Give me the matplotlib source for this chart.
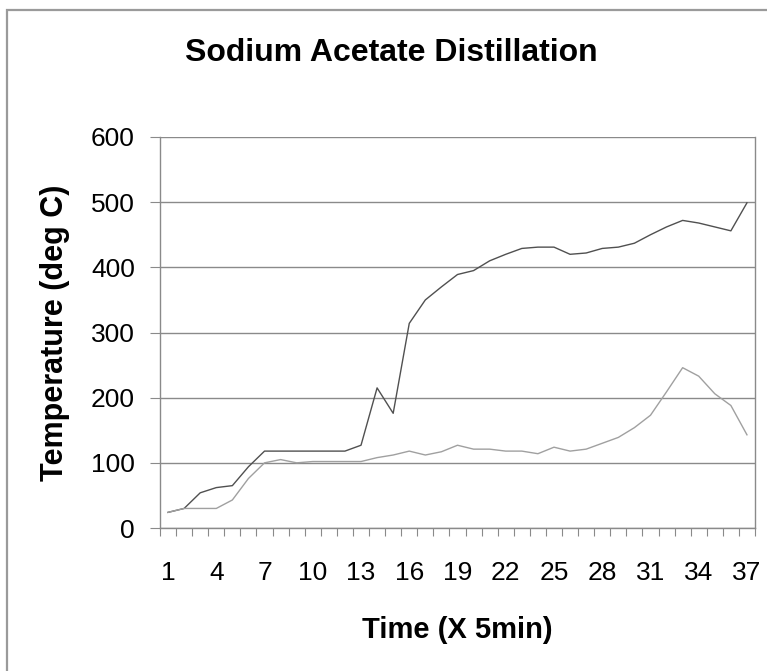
import matplotlib
matplotlib.use('Agg')
import matplotlib.pyplot as plt
from matplotlib.patches import Rectangle
import numpy as np

plt.rcParams['font.family'] = ['Liberation Sans', 'DejaVu Sans']

# time steps (x 5 min)
time_steps = list(range(1, 38))

# upper (darker) trace
temp_upper = [24, 30, 54, 62, 65, 94, 118, 118, 118, 118, 118, 118, 127, 215, 176,
              314, 350, 370, 389, 395, 410, 420, 429, 431, 431, 420, 422, 429, 431,
              437, 450, 462, 472, 468, 462, 456, 499]

# lower (lighter) trace
temp_lower = [24, 30, 30, 30, 43, 76, 100, 105, 100, 102, 102, 102, 102, 108, 112,
              118, 112, 117, 127, 121, 121, 118, 118, 114, 124, 118, 121, 130, 139,
              154, 173, 209, 246, 233, 206, 188, 143]

y_ticks = [0, 100, 200, 300, 400, 500, 600]
x_labels = list(range(1, 38, 3))

W, H = 767, 671
fig = plt.figure(figsize=(W / 100, H / 100), dpi=100)

# outer chart border (only left/top visible in the crop)
fig.add_artist(Rectangle((7 / W, -0.1), 1.2, (H - 10) / H + 0.1,
                         transform=fig.transFigure, fill=False,
                         edgecolor='#9a9a9a', linewidth=1.6))

ax = fig.add_axes([160 / W, (H - 528) / H, (755 - 160) / W, (528 - 137) / H])

ax.plot(time_steps, temp_upper, color='#505050', linewidth=1.0)
ax.plot(time_steps, temp_lower, color='#a0a0a0', linewidth=1.0)

ax.set_xlim(0.5, 37.5)
ax.set_ylim(0, 600)
ax.set_yticks(y_ticks)
ax.yaxis.grid(True, color='#8a8a8a', linewidth=1.0)
ax.set_axisbelow(True)

ax.set_xticks(x_labels)
ax.set_xticks(np.arange(0.5, 38, 1), minor=True)
ax.tick_params(axis='x', which='major', length=0, pad=24, labelsize=19)
ax.tick_params(axis='x', which='minor', length=6, width=0.8, color='#8a8a8a', direction='out')
ax.tick_params(axis='y', length=7, width=0.8, color='#8a8a8a', pad=11, labelsize=19)

for side in ['left', 'right', 'bottom']:
    ax.spines[side].set_color('#8a8a8a')
    ax.spines[side].set_linewidth(1.0)
ax.spines['top'].set_visible(False)

ax.set_xlabel('Time (X 5min)', fontsize=21, fontweight='bold', labelpad=22)
ax.set_ylabel('Temperature (deg C)', fontsize=22, fontweight='bold', labelpad=15)
fig.text(391 / W, 1 - 53 / H, 'Sodium Acetate Distillation', ha='center', va='center',
         fontsize=23, fontweight='bold')

fig.savefig('out.png', dpi=100)
